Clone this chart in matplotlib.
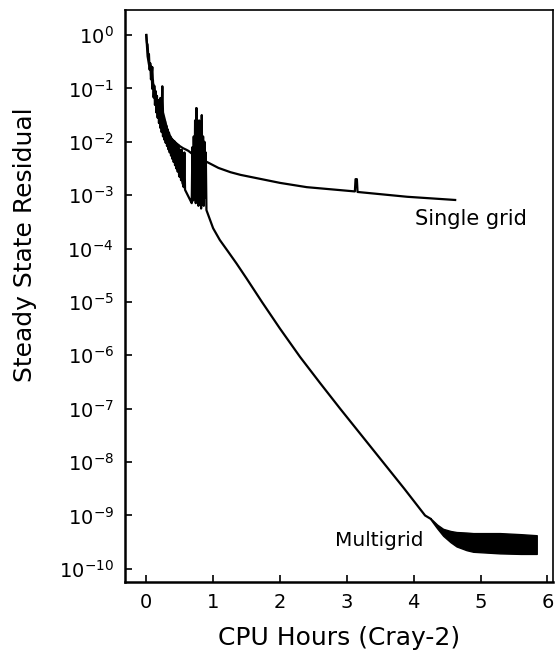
import numpy as np
import matplotlib
matplotlib.use("Agg")
import matplotlib.pyplot as plt
from matplotlib.ticker import NullLocator

# Convergence history, residual stored as log10 values
mg_hours = [0.00, 0.01, 0.02, 0.03, 0.04, 0.05, 0.06, 0.07, 0.08, 0.09,
            0.10, 0.11, 0.12, 0.13, 0.14, 0.15, 0.16, 0.17, 0.18, 0.19,
            0.20, 0.21, 0.22, 0.23, 0.24, 0.25, 0.26, 0.27, 0.28, 0.29,
            0.30, 0.31, 0.32, 0.33, 0.34, 0.35, 0.36, 0.37, 0.38, 0.39,
            0.40, 0.41, 0.42, 0.43, 0.44, 0.45, 0.46, 0.47, 0.48, 0.49,
            0.50, 0.51, 0.52, 0.53, 0.54, 0.55, 0.56, 0.57, 0.58, 0.60,
            0.62, 0.64, 0.66, 0.68, 0.69, 0.70, 0.71, 0.72, 0.73, 0.74,
            0.75, 0.76, 0.77, 0.78, 0.79, 0.80, 0.81, 0.82, 0.83, 0.84,
            0.85, 0.86, 0.87, 0.88, 0.89, 0.90, 0.95, 1.00, 1.10, 1.22,
            1.35, 1.50, 1.73, 2.00, 2.30, 2.60, 2.90, 3.22, 3.54, 3.86,
            4.17, 4.25]
mg_log10 = [0.00, -0.15, -0.18, -0.40, -0.36, -0.65, -0.53, -0.83, -0.69, -1.01,
            -0.85, -1.17, -0.95, -1.31, -1.05, -1.45, -1.14, -1.55, -1.22, -1.65,
            -1.30, -1.74, -1.38, -1.82, -1.46, -1.90, -1.54, -1.96, -1.62, -2.02,
            -1.70, -2.08, -1.77, -2.14, -1.83, -2.20, -1.90, -2.26, -1.94, -2.32,
            -1.97, -2.38, -1.99, -2.44, -2.02, -2.50, -2.04, -2.56, -2.06, -2.62,
            -2.66, -2.15, -2.72, -2.15, -2.77, -2.80, -2.85, -2.20, -2.90, -2.95,
            -3.00, -3.05, -3.10, -3.15, -2.10, -3.10, -1.90, -3.05, -1.60, -3.15,
            -1.37, -3.05, -1.95, -3.20, -1.60, -3.05, -1.80, -3.25, -1.50, -3.00,
            -1.90, -3.20, -2.00, -3.05, -2.20, -3.28, -3.45, -3.62, -3.84, -4.05,
            -4.28, -4.56, -5.00, -5.50, -6.03, -6.52, -7.00, -7.50, -8.00, -8.50,
            -9.00, -9.06]

# limit-cycle band at the end of the multigrid run
band_hours = [4.25, 4.35, 4.44, 4.55, 4.64, 4.79, 4.89, 5.29, 5.60, 5.84]
band_hi = [-9.05, -9.17, -9.25, -9.29, -9.31, -9.32, -9.33, -9.33, -9.35, -9.37]
band_lo = [-9.07, -9.24, -9.38, -9.50, -9.58, -9.65, -9.68, -9.71, -9.72, -9.72]

sg_hours = [0.00, 0.02, 0.04, 0.06, 0.07, 0.08, 0.09, 0.10, 0.12, 0.14,
            0.16, 0.18, 0.20, 0.21, 0.22, 0.23, 0.24, 0.25, 0.28, 0.31,
            0.34, 0.37, 0.40, 0.45, 0.50, 0.55, 0.60, 0.63, 0.66, 0.70,
            0.74, 0.75, 0.78, 0.83, 0.87, 0.91, 1.08, 1.26, 1.41, 2.00,
            2.40, 3.12, 3.13, 3.15, 3.16, 3.90, 4.62]
sg_log10 = [0.00, -0.40, -0.55, -0.65, -0.58, -0.75, -0.60, -0.90, -1.00, -1.10,
            -1.20, -1.30, -1.35, -1.18, -1.30, -1.40, -0.96, -1.45, -1.60, -1.75,
            -1.85, -1.93, -1.97, -2.03, -2.08, -2.12, -2.15, -2.17, -2.20, -2.24,
            -2.27, -1.37, -2.30, -2.33, -2.36, -2.38, -2.49, -2.57, -2.62, -2.77,
            -2.85, -2.93, -2.70, -2.70, -2.94, -3.03, -3.09]

y_ticks = [10.0 ** -k for k in range(11)]
x_ticks = [0, 1, 2, 3, 4, 5, 6]

fig = plt.figure(figsize=(5.55, 6.61), dpi=100)
ax = fig.add_axes([0.225, 0.12, 0.771, 0.865])

ax.plot(mg_hours, np.power(10.0, mg_log10), color="black", lw=1.6)
ax.fill_between(band_hours, np.power(10.0, band_lo), np.power(10.0, band_hi),
                color="black", lw=1.0)
ax.plot(sg_hours, np.power(10.0, sg_log10), color="black", lw=1.6)

ax.text(4.02, 10 ** -3.45, "Single grid", fontsize=15, va="center")
ax.text(2.83, 10 ** -9.46, "Multigrid", fontsize=14.5, va="center")

ax.set_yscale("log")
ax.set_ylim(10 ** -10.24, 10 ** 0.47)
ax.set_xlim(-0.32, 6.08)
ax.set_yticks(y_ticks)
ax.set_xticks(x_ticks)
ax.yaxis.set_minor_locator(NullLocator())
ax.tick_params(direction="in", length=5, width=1.2, labelsize=14, pad=8)

ax.set_xlabel("CPU Hours (Cray-2)", fontsize=18, labelpad=10)
ax.set_ylabel("Steady State Residual", fontsize=18)
ax.yaxis.set_label_coords(-0.205, 0.59)

for side in ["left", "bottom"]:
    ax.spines[side].set_linewidth(1.8)
for side in ["top", "right"]:
    ax.spines[side].set_linewidth(1.2)

plt.savefig("out.png", dpi=100)
